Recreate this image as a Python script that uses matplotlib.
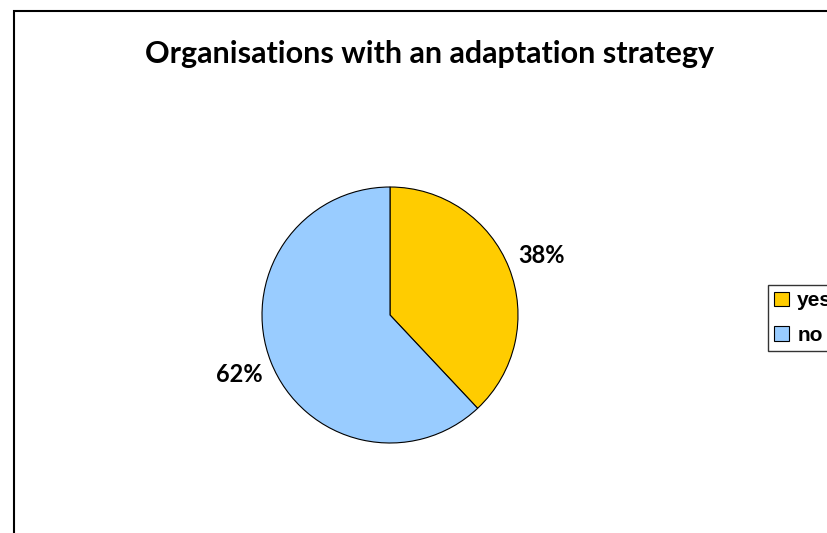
import matplotlib
matplotlib.use("Agg")
import matplotlib.pyplot as plt
from matplotlib.patches import Rectangle

categories = ["yes", "no"]
values = [38, 62]
colors = ["#FFCC00", "#99CCFF"]
title = "Organisations with an adaptation strategy"

W, H = 827, 533
fig = plt.figure(figsize=(W/100, H/100), dpi=100)

# outer frame
fig.patches.append(Rectangle((14/W, -0.1), 1.2, 1.1 - 11/H, transform=fig.transFigure,
                             fill=False, edgecolor="black", linewidth=1.5, clip_on=False))

ax = fig.add_axes([262/W, (H-443)/H, 256/W, 256/H])
wedges, texts, autotexts = ax.pie(values, colors=colors, startangle=90, counterclock=False,
       autopct="%1.0f%%", pctdistance=1.27,
       wedgeprops=dict(edgecolor="black", linewidth=0.8),
       textprops=dict(fontsize=17, fontweight="bold", family="Lato"))
ax.set_xlim(-1, 1); ax.set_ylim(-1, 1)
ax.set_aspect("equal")
ax.axis("off")

fig.text(430/W, 1-54/H, title, ha="center", va="center", fontsize=22,
         fontweight="bold", family="Lato")

leg = fig.legend(wedges, categories, loc="upper left",
                 bbox_to_anchor=(768/W, 1-285/H), borderaxespad=0,
                 frameon=True, fancybox=False,
                 prop=dict(family="Liberation Sans", weight="bold", size=15),
                 handlelength=0.7, handleheight=0.7, handletextpad=0.4,
                 borderpad=0.3, labelspacing=0.75)
leg.get_frame().set_edgecolor("black")
leg.get_frame().set_linewidth(1.0)

fig.savefig("out.png", dpi=100)
